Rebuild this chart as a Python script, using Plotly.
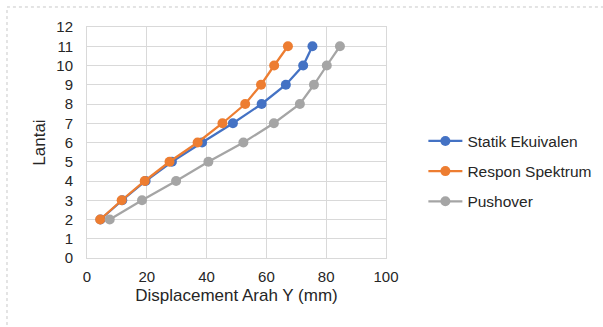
import plotly.graph_objects as go

lantai = [2, 3, 4, 5, 6, 7, 8, 9, 10, 11]
statik = [4.5, 11.8, 19.6, 28.4, 38.5, 48.8, 58.4, 66.5, 72.3, 75.4]
respon = [4.4, 11.6, 19.3, 27.6, 37.0, 45.3, 52.9, 58.2, 62.6, 67.2]
pushover = [7.6, 18.4, 29.8, 40.6, 52.3, 62.5, 71.2, 75.9, 80.2, 84.6]

series = [
    ("Statik Ekuivalen", statik, "#4472C4"),
    ("Respon Spektrum", respon, "#ED7D31"),
    ("Pushover", pushover, "#A5A5A5"),
]

fig = go.Figure()
for name, vals, col in series:
    fig.add_trace(go.Scatter(
        x=vals, y=lantai, name=name, mode="lines+markers",
        line=dict(color=col, width=2.25),
        marker=dict(color=col, size=10),
        legendgroup=name,
    ))

fam = "Liberation Sans, Arial, sans-serif"
txt = "#262626"

fig.update_layout(
    width=603, height=327,
    margin=dict(l=87, r=217, t=27, b=69, autoexpand=False),
    paper_bgcolor="white", plot_bgcolor="white",
    font=dict(family=fam, size=15, color=txt),
    legend=dict(x=1.125, xanchor="left", y=0.375, yanchor="middle",
                traceorder="grouped", tracegroupgap=7, itemwidth=34,
                font=dict(family=fam, size=15.5, color=txt)),
    xaxis=dict(range=[0, 100], tickvals=[0, 20, 40, 60, 80, 100],
               showgrid=True, gridcolor="#d9d9d9", gridwidth=1,
               zeroline=False, showline=True, linecolor="#d9d9d9", mirror=True,
               ticks="", ticklabelstandoff=5,
               tickfont=dict(size=15, color=txt),
               title=dict(text="Displacement Arah Y (mm)", standoff=5,
                          font=dict(size=17, color=txt))),
    yaxis=dict(range=[0, 12], tickvals=list(range(0, 13)),
               showgrid=True, gridcolor="#d9d9d9", gridwidth=1,
               zeroline=False, showline=True, linecolor="#d9d9d9", mirror=True,
               ticks="", ticklabelstandoff=10,
               tickfont=dict(size=15, color=txt),
               title=dict(text="Lantai", standoff=6,
                          font=dict(size=17, color=txt))),
    shapes=[dict(type="rect", xref="paper", yref="paper",
                 x0=-0.2676, x1=1.749, y0=-0.355, y1=1.0866,
                 line=dict(color="#c8c8c8", width=1, dash="dot"),
                 layer="below")],
)

fig.write_html("out.html")
